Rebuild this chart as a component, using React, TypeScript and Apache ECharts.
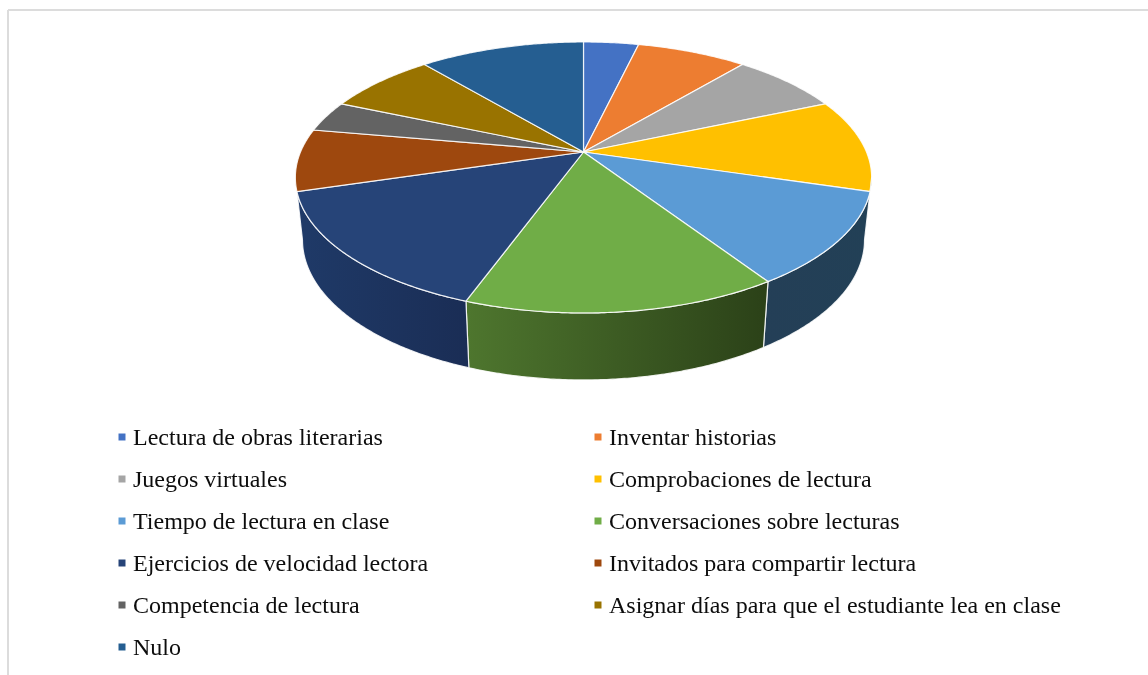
import React, { useEffect, useRef } from "react";
import * as echarts from "echarts";

const categories = [
  "Lectura de obras literarias",
  "Inventar historias",
  "Juegos virtuales",
  "Comprobaciones de lectura",
  "Tiempo de lectura en clase",
  "Conversaciones sobre lecturas",
  "Ejercicios de velocidad lectora",
  "Invitados para compartir lectura",
  "Competencia de lectura",
  "Asignar días para que el estudiante lea en clase",
  "Nulo",
];
const values = [1, 2, 2, 3, 3, 4, 4, 2, 1, 2, 3];
const topColors = ["#4472c4", "#ed7d31", "#a5a5a5", "#ffc000", "#5b9bd5", "#70ad47", "#264478", "#9e480e", "#636363", "#997300", "#255e91"];
const sideFrom = ["#223f8a", "#77401a", "#555555", "#806000", "#243f57", "#4e762e", "#1f3a68", "#5a2a08", "#333333", "#4d3a00", "#12304a"];
const sideTo = ["#223f8a", "#77401a", "#555555", "#806000", "#224056", "#2b4118", "#1a2d55", "#5a2a08", "#333333", "#4d3a00", "#12304a"];
const leftLegend = [0, 2, 4, 6, 8, 10];
const rightLegend = [1, 3, 5, 7, 9];

const CX = 583.5;
const CY = 152;
const A = 283;
const B = 130.7;
const K = 0.188;
const BASE_CY = 213.7;
const BASE_A = 276;
const BASE_B = 135;
const MIN_SIDE_SPAN = 10;
const DEG = Math.PI / 180;
const TANGENT = Math.acos(K) / DEG; // angle from the front where the rim turns away

const total = values.reduce((a, b) => a + b, 0);

function project(theta: number, cy: number, a: number, b: number): [number, number] {
  const u = Math.sin(theta * DEG);
  const v = -Math.cos(theta * DEG);
  const w = 1 - K * v;
  return [CX + (a * u) / w, cy + (b * v) / w];
}
const top = (t: number) => project(t, CY, A, B);
const base = (t: number) => project(t, BASE_CY, BASE_A, BASE_B);
function arc(fn: (t: number) => [number, number], from: number, to: number) {
  const n = Math.max(2, Math.ceil(Math.abs(to - from) * 2));
  const pts: [number, number][] = [];
  for (let i = 0; i <= n; i++) pts.push(fn(from + ((to - from) * i) / n));
  return pts;
}

export default function App() {
  const ref = useRef<HTMLDivElement>(null);
  useEffect(() => {
    const chart = echarts.init(ref.current!, null, { renderer: "svg", width: 1148, height: 675 });
    let acc = 0;
    const frontFrom = 180 - TANGENT;
    const frontTo = 180 + TANGENT;
    const series = categories.map((name, i) => {
      const start = (acc / total) * 360;
      acc += values[i];
      const end = (acc / total) * 360;
      return {
        type: "custom",
        name,
        coordinateSystem: "none",
        silent: true,
        z: 2,
        itemStyle: { color: topColors[i] },
        data: [[values[i]]],
        renderItem: () => {
          const children: any[] = [];
          let s = Math.max(start, frontFrom);
          let e = Math.min(end, frontTo);
          if (e - s >= MIN_SIDE_SPAN) {
            // a neighbour's sliver at the silhouette is absorbed by this wall
            if (s - frontFrom < MIN_SIDE_SPAN) s = frontFrom;
            if (frontTo - e < MIN_SIDE_SPAN) e = frontTo;
            const poly = [...arc(top, s, e), ...arc(base, e, s)];
            children.push({
              type: "polygon",
              shape: { points: poly },
              style: {
                fill: new echarts.graphic.LinearGradient(0, 0, 1, 0, [
                  { offset: 0, color: sideFrom[i] },
                  { offset: 1, color: sideTo[i] },
                ]),
                stroke: "rgba(255,255,255,0.85)",
                lineWidth: 1.2,
              },
            });
          }
          const face = [[CX, CY], ...arc(top, start, end)];
          children.push({
            type: "polygon",
            shape: { points: face },
            style: { fill: topColors[i], stroke: "rgba(255,255,255,0.85)", lineWidth: 1.2 },
          });
          return { type: "group", children };
        },
      };
    });
    const legendBase = {
      orient: "vertical",
      icon: "rect",
      itemWidth: 7,
      itemHeight: 7,
      itemGap: 16,
      padding: 0,
      selectedMode: false,
      textStyle: { fontFamily: "Liberation Serif", fontSize: 24, color: "#0d0d0d", padding: [2, 0, 0, 2.5], height: 24, lineHeight: 24 },
    };
    chart.setOption({
      animation: false,
      backgroundColor: "#ffffff",
      legend: [
        { ...legendBase, left: 118.5, top: 424, data: leftLegend.map((i) => categories[i]) },
        { ...legendBase, left: 594.5, top: 424, data: rightLegend.map((i) => categories[i]) },
      ],
      graphic: [
        { type: "line", shape: { x1: 8, y1: 10, x2: 1148, y2: 10 }, style: { stroke: "#dcdcdc", lineWidth: 2 } },
        { type: "line", shape: { x1: 8, y1: 10, x2: 8, y2: 675 }, style: { stroke: "#dcdcdc", lineWidth: 2 } },
      ],
      series,
    });
    return () => chart.dispose();
  }, []);
  return <div ref={ref} style={{ position: "absolute", left: 0, top: 0, width: 1148, height: 675, filter: "blur(0.4px)" }} />;
}
